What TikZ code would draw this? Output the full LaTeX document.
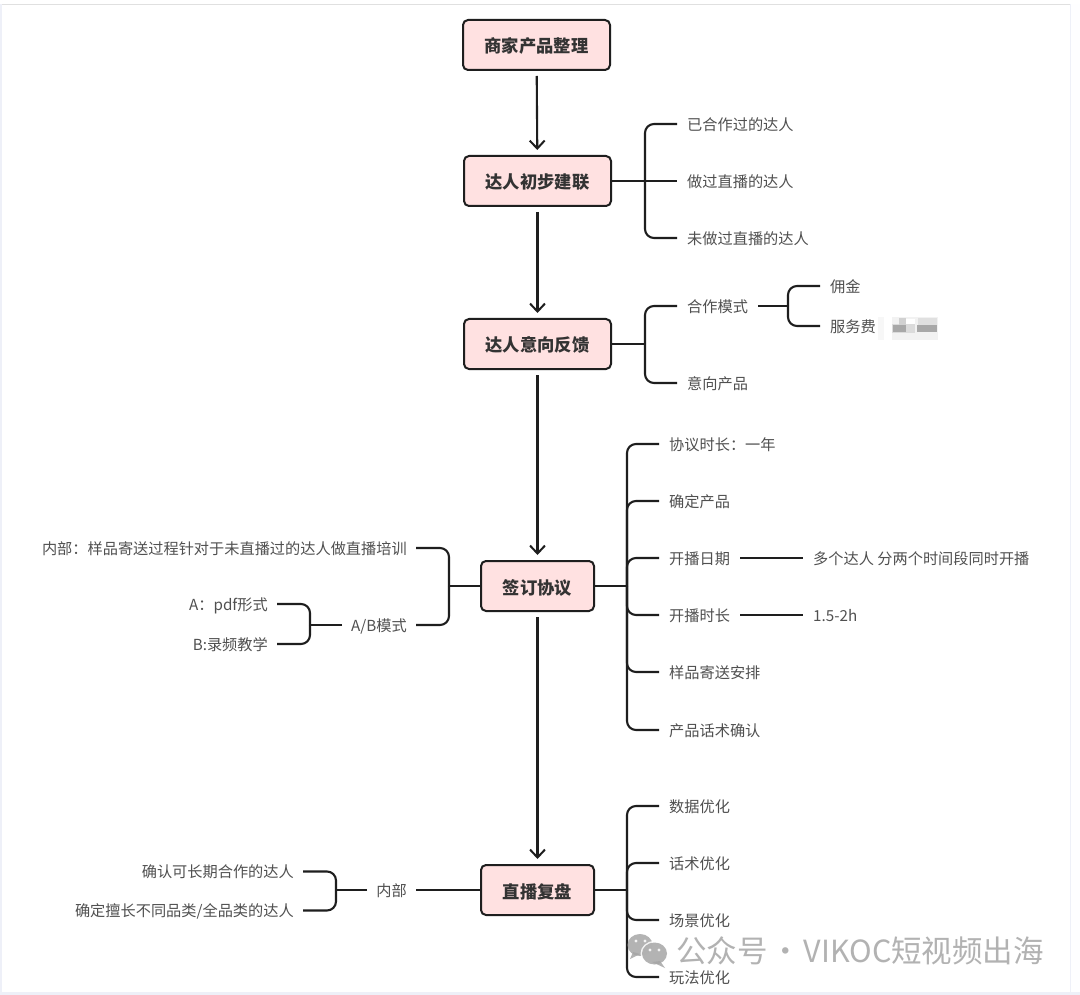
\documentclass[tikz,border=0pt]{standalone}
\usepackage{fontspec}
\setmainfont{Noto Sans CJK SC}
\usetikzlibrary{arrows.meta}
\definecolor{boxfill}{HTML}{FFE1E1}
\definecolor{ink}{HTML}{1E1E1E}
\definecolor{leaftext}{HTML}{505050}
\definecolor{pagebg}{HTML}{EEF0F8}
\tikzset{
  x=1pt,y=-1pt,
  mainbox/.style={draw=ink,fill=boxfill,line width=2pt,rounded corners=5pt,minimum width=147pt,minimum height=50pt,
    text=black!80,inner sep=0pt,text height=18pt,text depth=2pt,font=\fontsize{17.3}{20}\selectfont\bfseries},
  midbox/.style={mainbox,minimum width=113pt},
  leafR/.style={anchor=west,inner xsep=10pt,inner ysep=0pt,text=leaftext,text height=14.5pt,text depth=2pt,font=\fontsize{15.2}{18}\selectfont},
  leafL/.style={anchor=east,inner xsep=9pt,inner ysep=0pt,text=leaftext,text height=14.5pt,text depth=2pt,font=\fontsize{15.2}{18}\selectfont},
  link/.style={draw=ink,line width=2.1pt},
  bracket/.style={link,rounded corners=9pt},
  arrowlink/.style={link,shorten <=5pt,shorten >=5pt,-{Straight Barb[length=8pt,width=15pt,line width=2pt]}},
}
\begin{document}
\begin{tikzpicture}
\useasboundingbox (0,0) rectangle (1080,995);
% page frame
\fill[pagebg] (0,0) rectangle (1080,995);
\fill[white] (2,5) rectangle (1070,992);
\fill[white!97!pagebg] (1071,0) rectangle (1080,992);
\fill[white] (0,0) rectangle (1080,4);
\fill[black!12] (2,4) rectangle (1070,5);

% main boxes
\node[mainbox] (b1) at (536.5,45) {商家产品整理};
\node[mainbox] (b2) at (537.5,181) {达人初步建联};
\node[mainbox] (b3) at (537.5,344) {达人意向反馈};
\node[midbox] (b4) at (537.5,586) {签订协议};
\node[midbox] (b5) at (537.5,890) {直播复盘};

\draw[arrowlink] (b1) -- (b2);
\draw[arrowlink] (b2) -- (b3);
\draw[arrowlink] (b3) -- (b4);
\draw[arrowlink] (b4) -- (b5);

% branch of b2
\coordinate (t2) at (645,181);
\node[leafR] (a1) at (677,124) {已合作过的达人};
\node[leafR] (a2) at (677,181) {做过直播的达人};
\node[leafR] (a3) at (677,238) {未做过直播的达人};
\draw[link] (b2.east) -- (a2.west);
\draw[bracket] (a1.west) -| (t2);
\draw[bracket] (a3.west) -| (t2);

% branch of b3
\coordinate (t3) at (645,344);
\node[leafR] (c1) at (677,306) {合作模式};
\node[leafR] (c2) at (677,383) {意向产品};
\draw[link] (b3.east) -- (t3);
\draw[bracket] (c1.west) -| (t3);
\draw[bracket] (c2.west) -| (t3);
\coordinate (t3b) at (788,306);
\node[leafR] (d1) at (820,286) {佣金};
\node[leafR] (d2) at (820,326) {服务费};
\draw[link] (c1.east) -- (t3b);
\draw[bracket] (d1.west) -| (t3b);
\draw[bracket] (d2.west) -| (t3b);
% blurred mosaic
\fill[black!3] (878,317) rectangle (884,340);
\fill[black!5] (892,317) rectangle (938,340);
\fill[white] (905,319) rectangle (915,324);
\fill[black!14] (892,324) rectangle (915,333);
\fill[black!34] (893,325) rectangle (906,332);
\fill[black!34] (917,325) rectangle (937,332);
\fill[black!18] (899,318) rectangle (906,325);
\fill[black!12] (918,318) rectangle (937,325);

% right branch of b4
\coordinate (t4) at (627,586);
\node[leafR] (e1) at (659,444) {协议时长：一年};
\node[leafR] (e2) at (659,501) {确定产品};
\node[leafR] (e3) at (659,558) {开播日期};
\node[leafR] (e4) at (659,615) {开播时长};
\node[leafR] (e5) at (659,672) {样品寄送安排};
\node[leafR] (e6) at (659,730) {产品话术确认};
\draw[link] (b4.east) -- (t4);
\foreach \n in {e1,e2,e3,e4,e5,e6}{\draw[bracket] (\n.west) -| (t4);}
\node[leafR] (f1) at (803,558) {多个达人 分两个时间段同时开播};
\node[leafR] (f2) at (803,615) {1.5-2h};
\draw[link] (e3.east) -- (f1.west);
\draw[link] (e4.east) -- (f2.west);

% left branch of b4
\coordinate (t4l) at (449,586);
\node[leafL] (g1) at (416,548) {内部：样品寄送过程针对于未直播过的达人做直播培训};
\node[leafL] (g2) at (416,625) {A/B模式};
\draw[link] (b4.west) -- (t4l);
\draw[bracket] (g1.east) -| (t4l);
\draw[bracket] (g2.east) -| (t4l);
\coordinate (t4m) at (310,625);
\node[leafL] (h1) at (277,604) {A：pdf形式};
\node[leafL] (h2) at (277,644) {B:录频教学};
\draw[link] (g2.west) -- (t4m);
\draw[bracket] (h1.east) -| (t4m);
\draw[bracket] (h2.east) -| (t4m);

% right branch of b5
\coordinate (t5) at (627,890);
\node[leafR] (i1) at (659,806) {数据优化};
\node[leafR] (i2) at (659,863) {话术优化};
\node[leafR] (i3) at (659,920) {场景优化};
\node[leafR] (i4) at (659,977) {玩法优化};
\draw[link] (b5.east) -- (t5);
\foreach \n in {i1,i2,i3,i4}{\draw[bracket] (\n.west) -| (t5);}

% left branch of b5
\node[leafL] (j0) at (416,890) {内部};
\draw[link] (b5.west) -- (j0.east);
\coordinate (t5l) at (336,890);
\node[leafL] (j1) at (303,871.5) {确认可长期合作的达人};
\node[leafL] (j2) at (303,910.5) {确定擅长不同品类/全品类的达人};
\draw[link] (j0.west) -- (t5l);
\draw[bracket] (j1.east) -| (t5l);
\draw[bracket] (j2.east) -| (t5l);

% watermark
\begin{scope}[opacity=.85]
\fill[black!35] (640,945) ellipse (12.5pt and 11pt);
\fill[black!35] (633,952) -- (630,959) -- (640,954) -- cycle;
\fill[white] (654.5,953.5) ellipse (14pt and 12.5pt);
\fill[black!35] (654.5,953.5) ellipse (12.5pt and 11pt);
\fill[black!35] (660,961) -- (665,968) -- (652,962) -- cycle;
\fill[white] (636,941) circle (1.7pt);
\fill[white] (645,941) circle (1.7pt);
\fill[white] (650,950) circle (1.6pt);
\fill[white] (659,950) circle (1.6pt);
\end{scope}
\node[anchor=west,inner sep=0pt,text=black!30,font=\fontsize{30.5}{34}\selectfont] (wm) at (676,951) {公众号\hspace{-4pt} · \hspace{-4pt}VIKOC短视频出海};
\end{tikzpicture}
\end{document}
